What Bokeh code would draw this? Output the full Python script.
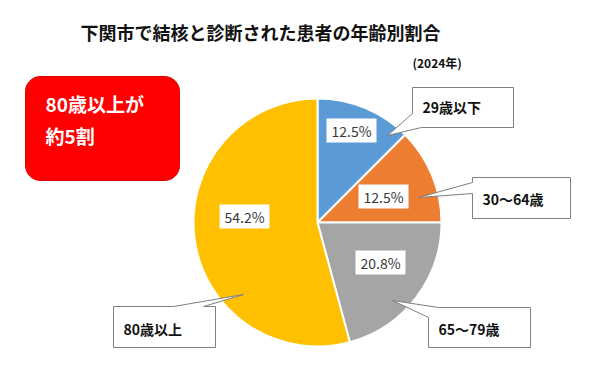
import numpy as np
from bokeh.plotting import figure
from bokeh.models import Range1d, ColumnDataSource
from bokeh.core.properties import value
from bokeh.embed import file_html
from bokeh.resources import INLINE

# ---- data ----
categories = ["29歳以下", "30～64歳", "65～79歳", "80歳以上"]
shares = [12.5, 12.5, 20.8, 54.2]
colors = ["#5B9BD5", "#ED7D31", "#A5A5A5", "#FFC000"]
title_text = "下関市で結核と診断された患者の年齢別割合"
year_text = "(2024年)"
note_lines = ["80歳以上が", "約5割"]

# ---- layout (page pixels) ----
W, H = 584, 364
def X(px): return px
def Y(py): return H - py

FONT = "Noto Sans CJK JP"
pie_cx, pie_cy, pie_r = 317, 222, 124

pct_pos = [(351, 130), (383, 196), (380, 262), (244, 216)]
# callout polygons: box with pointer (page px)
callouts = [
    dict(poly=[(412, 87), (513, 87), (513, 127), (421, 127), (387, 135), (412, 113)], tx=422, ty=106),
    dict(poly=[(472, 177), (570, 177), (570, 218), (472, 218), (472, 193), (418, 197), (472, 182)], tx=482, ty=198),
    dict(poly=[(438, 307), (530, 307), (530, 347), (428, 347), (428, 317), (392, 300)], tx=438, ty=328),
    dict(poly=[(113, 306), (173, 306), (243, 294), (203, 306), (215, 306), (215, 347), (113, 347)], tx=123, ty=328),
]

p = figure(width=W, height=H, x_range=Range1d(0, W), y_range=Range1d(0, H),
           output_backend="svg", toolbar_location=None, min_border=0)
p.axis.visible = False
p.grid.visible = False
p.outline_line_color = None
p.background_fill_color = "white"
p.border_fill_color = "white"

# title
p.text(x=[X(260)], y=[Y(31)], text=[title_text], text_font=value(FONT), text_font_size="18px",
       text_font_style="bold", text_align="center", text_baseline="middle", text_color="#111111")
p.text(x=[X(412)], y=[Y(62)], text=[year_text], text_font=value(FONT), text_font_size="12px",
       text_font_style="bold", text_align="left", text_baseline="middle", text_color="#111111")

# red rounded box
L, T, R, B, rad = X(25), Y(76), X(179), Y(180), 15
xs, ys = [], []
for (cx, cy, a0) in [(R - rad, T - rad, 0), (L + rad, T - rad, 90), (L + rad, B + rad, 180), (R - rad, B + rad, 270)]:
    ang = np.radians(np.linspace(a0, a0 + 90, 12))
    xs += list(cx + rad * np.cos(ang))
    ys += list(cy + rad * np.sin(ang))
p.patch(xs, ys, fill_color="#FF0000", line_color="#E00000", line_width=1)
p.text(x=[X(45), X(45)], y=[Y(103), Y(135)], text=note_lines, text_font=value(FONT),
       text_font_size="19px", text_font_style="bold", text_color="white",
       text_align="left", text_baseline="middle")

# pie
frac = np.cumsum([0] + shares) / 100.0
start = np.pi / 2 - 2 * np.pi * frac[:-1]
end = np.pi / 2 - 2 * np.pi * frac[1:]
src = ColumnDataSource(dict(start=start, end=end, color=colors))
p.wedge(x=X(pie_cx), y=Y(pie_cy), radius=pie_r, start_angle="start", end_angle="end",
        direction="clock", fill_color="color", line_color="white", line_width=2, source=src)

# percent labels
pct_text = [f"{v:.1f}%" for v in shares]
p.rect(x=[X(a) for a, b in pct_pos], y=[Y(b) for a, b in pct_pos], width=50, height=24,
       fill_color="white", line_color=None)
p.text(x=[X(a) for a, b in pct_pos], y=[Y(b) for a, b in pct_pos], text=pct_text,
       text_font=value(FONT), text_font_size="14px", text_color="#3A3A3A",
       text_align="center", text_baseline="middle")

# callouts
p.patches(xs=[[X(a) for a, b in c["poly"]] for c in callouts],
          ys=[[Y(b) for a, b in c["poly"]] for c in callouts],
          fill_color="white", line_color="#7F7F7F", line_width=1)
p.text(x=[X(c["tx"]) for c in callouts], y=[Y(c["ty"]) for c in callouts], text=categories,
       text_font=value(FONT), text_font_size="14px", text_font_style="bold",
       text_color="#111111", text_align="left", text_baseline="middle")

open("out.html", "w").write(file_html(p, INLINE))
